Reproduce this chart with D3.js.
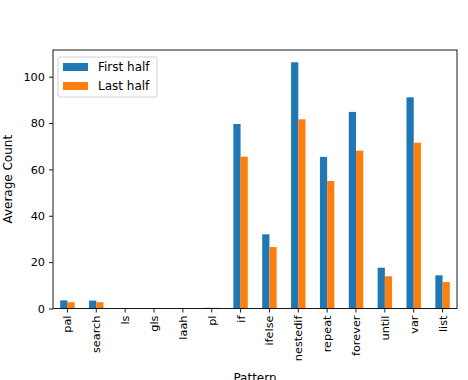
<!DOCTYPE html>
<html>
<head>
<meta charset="utf-8">
<script src="https://cdn.jsdelivr.net/npm/d3@7.9.0/dist/d3.min.js"></script>
<style>
  body { margin: 0; background: #fff; }
  text { font-family: "DejaVu Sans", sans-serif; }
</style>
</head>
<body>
<div id="chart"></div>
<script>
const patterns = ["pal", "search", "ls", "gls", "laah", "pl", "if", "ifelse", "nestedif", "repeat", "forever", "until", "var", "list"];
const firstHalf = [3.5, 3.4, 0, 0, 0, 0.3, 79.6, 32.0, 106.2, 65.4, 84.8, 17.6, 91.1, 14.3];
const lastHalf = [2.7, 2.7, 0, 0, 0, 0.3, 65.5, 26.5, 81.6, 55.0, 68.1, 13.9, 71.5, 11.4];
const seriesNames = ["First half", "Last half"];
const yTicks = [0, 20, 40, 60, 80, 100];

const colors = ["#1f77b4", "#ff7f0e"];
const W = 468, H = 380;
const margin = { top: 50, right: 11, bottom: 71.5, left: 53 };
const width = W - margin.left - margin.right;
const height = H - margin.top - margin.bottom;

const svg = d3.select("#chart").append("svg")
  .attr("width", W).attr("height", H);
const g = svg.append("g")
  .attr("transform", `translate(${margin.left},${margin.top})`);

const x = d3.scaleBand().domain(patterns).range([0, width]).padding(0);
const y = d3.scaleLinear().domain([0, 111.5]).range([height, 0]);

const data = patterns.map((p, i) => ({ p, vals: [firstHalf[i], lastHalf[i]] }));
const barW = x.bandwidth() * 0.25;

// bars
seriesNames.forEach((s, k) => {
  g.selectAll(".bar" + k)
    .data(data)
    .join("rect")
      .attr("x", d => x(d.p) + x.bandwidth() / 2 - barW + k * barW)
      .attr("y", d => y(d.vals[k]))
      .attr("width", barW)
      .attr("height", d => y(0) - y(d.vals[k]))
      .attr("fill", colors[k]);
});

// axes
const xAxis = g.append("g")
  .attr("transform", `translate(0,${height})`)
  .call(d3.axisBottom(x).tickSize(4).tickPadding(4));
xAxis.selectAll("text")
  .attr("transform", "rotate(-90)")
  .attr("text-anchor", "end")
  .attr("x", -7).attr("y", 0).attr("dy", "0.35em")
  .style("font-size", "11.3px").attr("fill", "#000");

const yAxis = g.append("g")
  .call(d3.axisLeft(y).tickValues(yTicks).tickSize(4).tickPadding(4));
yAxis.selectAll("text").style("font-size", "11.3px").attr("fill", "#000");

[xAxis, yAxis].forEach(a => {
  a.select(".domain").remove();
  a.selectAll("line").attr("stroke", "#000").attr("stroke-width", 0.9);
});

// frame
g.append("rect")
  .attr("width", width).attr("height", height)
  .attr("fill", "none").attr("stroke", "#000").attr("stroke-width", 0.9);

// labels
svg.append("text")
  .attr("transform", `translate(8,${margin.top + height / 2}) rotate(-90)`)
  .attr("text-anchor", "middle").attr("dy", "0.35em")
  .style("font-size", "12px")
  .text("Average Count");

svg.append("text")
  .attr("x", margin.left + width / 2).attr("y", 382)
  .attr("text-anchor", "middle")
  .style("font-size", "12px")
  .text("Pattern");

// legend
const legend = g.append("g").attr("transform", "translate(5,7)");
legend.append("rect")
  .attr("width", 99).attr("height", 40).attr("rx", 2)
  .attr("fill", "#fff").attr("fill-opacity", 0.8)
  .attr("stroke", "#ccc").attr("stroke-width", 0.9);
seriesNames.forEach((s, k) => {
  legend.append("rect")
    .attr("x", 5).attr("y", 6 + k * 19)
    .attr("width", 25).attr("height", 8)
    .attr("fill", colors[k]);
  legend.append("text")
    .attr("x", 40).attr("y", 10 + k * 19).attr("dy", "0.35em")
    .style("font-size", "12px")
    .text(s);
});
</script>
</body>
</html>
